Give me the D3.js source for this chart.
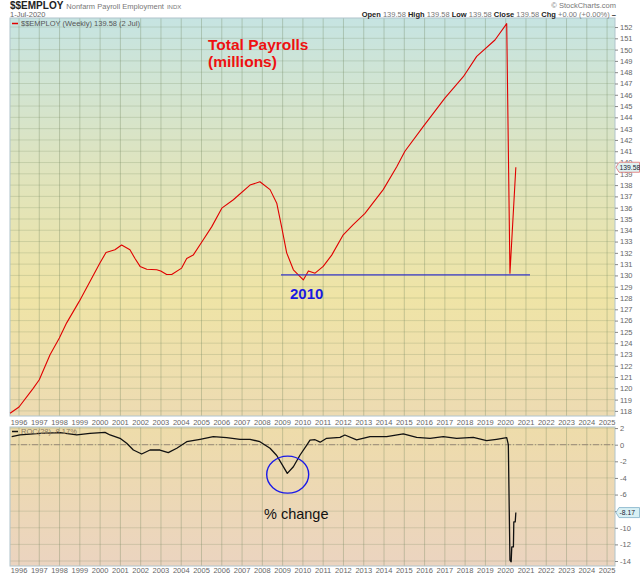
<!DOCTYPE html>
<html>
<head>
<meta charset="utf-8">
<script src="https://cdn.jsdelivr.net/npm/d3@7"></script>
<style>
  body { margin: 0; background: #fff; }
  text { font-family: "Liberation Sans", Arial, sans-serif; }
</style>
</head>
<body>
<svg id="chart" width="640" height="576"></svg>
<script>
// payrolls, weekly, millions (decimal years)
var payrollYears = [1995.56, 1996.0, 1996.7, 1997.0, 1997.53, 1997.99, 1998.35, 1998.97, 1999.5, 1999.99,
  2000.29, 2000.73, 2001.06, 2001.47, 2001.72, 2001.97, 2002.3, 2002.79, 2002.99, 2003.28, 2003.53,
  2004.02, 2004.27, 2004.59, 2004.99, 2005.5, 2006.0, 2006.57, 2007.39, 2007.88, 2008.38, 2008.71,
  2008.95, 2009.2, 2009.53, 2010.02, 2010.27, 2010.6, 2011.0, 2011.42, 2011.99, 2012.48, 2013.06,
  2013.96, 2014.62, 2015.03, 2015.94, 2017.0, 2017.91, 2018.57, 2019.47, 2020.05, 2020.21, 2020.5];
var payrollValues = [117.8, 118.35, 120.0, 120.76, 122.97, 124.45, 125.8, 127.7, 129.46, 131.1,
  132.03, 132.27, 132.7, 132.27, 131.5, 130.8, 130.55, 130.5, 130.4, 130.08, 130.08,
  130.65, 131.5, 131.8, 132.9, 134.3, 135.96, 136.7, 138.0, 138.3, 137.6, 136.4,
  134.3, 132.0, 130.5, 129.6, 130.4, 130.2, 130.8, 131.8, 133.6, 134.5, 135.5,
  137.6, 139.6, 141.0, 143.2, 145.7, 147.6, 149.4, 150.85, 152.3, 130.2, 139.58];

// ROC(28) in percent
var rocYears = [1995.64, 1996.05, 1997.04, 1998.02, 1998.85, 1999.5, 2000.24, 2000.49, 2000.98, 2001.31,
  2001.64, 2002.05, 2002.46, 2002.95, 2003.36, 2003.78, 2004.27, 2004.93, 2005.58, 2006.24, 2006.9,
  2007.39, 2007.88, 2008.38, 2008.71, 2009.23, 2009.53, 2009.86, 2010.19, 2010.35, 2010.6, 2010.85,
  2011.17, 2011.83, 2012.07, 2012.65, 2013.31, 2014.13, 2014.95, 2015.61, 2016.27, 2016.92, 2017.58,
  2018.4, 2019.06, 2019.55, 2020.05, 2020.13, 2020.21, 2020.27, 2020.3, 2020.38, 2020.4, 2020.47, 2020.5];
var rocValues = [0.96, 1.17, 1.37, 1.45, 1.17, 1.37, 1.49, 1.17, 0.77, 0.17,
  -0.64, -1.12, -0.64, -0.64, -0.96, -0.43, 0.36, 0.65, 0.96, 0.84, 0.65,
  0.65, 0.36, -0.43, -1.3, -3.45, -2.65, -1.24, -0.04, 0.55, 0.6, 0.3,
  0.77, 0.89, 1.17, 0.57, 0.96, 0.96, 1.29, 0.89, 0.77, 0.96, 0.77,
  0.89, 0.48, 0.65, 0.84, 0.0, -13.9, -14.1, -12.3, -12.3, -9.3, -9.3, -8.17];

var yearTicks = d3.range(1996, 2026);
var topTicks = d3.range(118, 153);
var rocTicks = [2, 0, -2, -4, -6, -8, -10, -12, -14];

// annotations
var supportLevel = 130.05, supportFrom = 2008.92, supportTo = 2021.2;
var troughYear = 2009.25, troughRoc = -3.6;

var svg = d3.select("#chart");
var left = 10, right = 615;
var top1 = 18, bot1 = 416, top2 = 427, bot2 = 566;

var x = d3.scaleLinear().domain([1995.556, 2025.39]).range([left, right]);
var y = d3.scaleLinear().domain([117.55, 152.8]).range([bot1, top1]);
var y2 = d3.scaleLinear().domain([-14.6, 2.13]).range([bot2, top2]);

var defs = svg.append("defs");
var g1 = defs.append("linearGradient").attr("id", "bg1").attr("x1", 0).attr("x2", 0).attr("y1", 0).attr("y2", 1);
g1.append("stop").attr("offset", "0%").attr("stop-color", "#c6e4e2");
g1.append("stop").attr("offset", "40%").attr("stop-color", "#e0e4bc");
g1.append("stop").attr("offset", "70%").attr("stop-color", "#efe4a6");
g1.append("stop").attr("offset", "100%").attr("stop-color", "#eddbb2");
var g2 = defs.append("linearGradient").attr("id", "bg2").attr("x1", 0).attr("x2", 0).attr("y1", 0).attr("y2", 1);
g2.append("stop").attr("offset", "0%").attr("stop-color", "#eedcaa");
g2.append("stop").attr("offset", "100%").attr("stop-color", "#ebd4c0");

svg.append("rect").attr("x", left).attr("y", top1).attr("width", right - left).attr("height", bot1 - top1)
  .attr("fill", "url(#bg1)");
svg.append("rect").attr("x", left).attr("y", top2).attr("width", right - left).attr("height", bot2 - top2)
  .attr("fill", "url(#bg2)");

// gridlines
function grid(yScale, ticks, t, b) {
  var g = svg.append("g");
  g.selectAll("line.h").data(ticks).enter().append("line")
    .attr("x1", left).attr("x2", right)
    .attr("y1", function(d) { return yScale(d); }).attr("y2", function(d) { return yScale(d); })
    .attr("stroke", "rgba(110,130,90,0.22)");
  g.selectAll("line.v").data(yearTicks).enter().append("line")
    .attr("x1", function(d) { return x(d); }).attr("x2", function(d) { return x(d); })
    .attr("y1", t).attr("y2", b)
    .attr("stroke", "rgba(110,130,90,0.33)");
}
grid(y, topTicks, top1, bot1);
grid(y2, rocTicks, top2, bot2);

// zero line
svg.append("line").attr("x1", left).attr("x2", right).attr("y1", y2(0)).attr("y2", y2(0))
  .attr("stroke", "#9a8c78").attr("stroke-dasharray", "6,2,1,2");

// borders
svg.append("rect").attr("x", left).attr("y", top1).attr("width", right - left).attr("height", bot1 - top1)
  .attr("fill", "none").attr("stroke", "#b0c4cc");
svg.append("rect").attr("x", left).attr("y", top2).attr("width", right - left).attr("height", bot2 - top2)
  .attr("fill", "none").attr("stroke", "#b0c4cc");

// right axes (the -8 label sits under the value marker, as in the original)
var axTop = svg.append("g").attr("transform", "translate(" + right + ",0)")
  .call(d3.axisRight(y).tickValues(topTicks).tickSize(3).tickPadding(2));
var axBot = svg.append("g").attr("transform", "translate(" + right + ",0)")
  .call(d3.axisRight(y2).tickValues(rocTicks).tickSize(3).tickPadding(2)
    .tickFormat(function(d) { return d === -8 ? "" : d; }));
[axTop, axBot].forEach(function(a) {
  a.select(".domain").remove();
  a.selectAll("line").attr("stroke", "#888");
  a.selectAll("text").attr("fill", "#666").attr("font-size", "7.5px")
    .attr("font-family", "'Liberation Sans', Arial, sans-serif");
});

// year labels
function yearAxis(yy) {
  svg.append("g").selectAll("text").data(yearTicks).enter().append("text")
    .attr("x", function(d) { return x(d); }).attr("y", yy)
    .attr("text-anchor", "middle").attr("font-size", "7.5px").attr("fill", "#666")
    .text(function(d) { return d; });
}
yearAxis(425);
yearAxis(573);

// series
var payroll = payrollYears.map(function(d, i) { return [d, payrollValues[i]]; });
var roc = rocYears.map(function(d, i) { return [d, rocValues[i]]; });

svg.append("path").datum(payroll)
  .attr("fill", "none").attr("stroke", "#e00000").attr("stroke-width", 1.1)
  .attr("stroke-linejoin", "round")
  .attr("d", d3.line().x(function(d) { return x(d[0]); }).y(function(d) { return y(d[1]); }));

svg.append("path").datum(roc)
  .attr("fill", "none").attr("stroke", "#111").attr("stroke-width", 1.3)
  .attr("stroke-linejoin", "round")
  .attr("d", d3.line().x(function(d) { return x(d[0]); }).y(function(d) { return y2(d[1]); }));

// annotations
svg.append("line")
  .attr("x1", x(supportFrom)).attr("x2", x(supportTo))
  .attr("y1", y(supportLevel)).attr("y2", y(supportLevel))
  .attr("stroke", "#3838c8").attr("stroke-width", 1.3);
svg.append("text").attr("x", 290).attr("y", 299).attr("fill", "#1a1ae0")
  .attr("font-size", "15px").attr("font-weight", "bold").text("2010");
svg.append("ellipse").attr("cx", x(troughYear)).attr("cy", y2(troughRoc))
  .attr("rx", 21).attr("ry", 18.5)
  .attr("fill", "none").attr("stroke", "#1a1ae8").attr("stroke-width", 1.4);
svg.append("text").attr("x", 264).attr("y", 519).attr("fill", "#111")
  .attr("font-size", "14.5px").text("% change");
svg.append("text").attr("x", 208).attr("y", 50).attr("fill", "#ee1111")
  .attr("font-size", "15.5px").attr("font-weight", "bold").text("Total Payrolls");
svg.append("text").attr("x", 208).attr("y", 67).attr("fill", "#ee1111")
  .attr("font-size", "15.5px").attr("font-weight", "bold").text("(millions)");

// value markers
function marker(yy, label, stroke, fill) {
  var g = svg.append("g");
  g.append("path")
    .attr("d", "M" + (right + 1) + "," + yy + " L" + (right + 4) + "," + (yy - 5) + " L639.5," + (yy - 5) +
      " L639.5," + (yy + 5) + " L" + (right + 4) + "," + (yy + 5) + " Z")
    .attr("fill", fill).attr("stroke", stroke).attr("stroke-width", 0.8);
  g.append("text").attr("x", right + 4.5).attr("y", yy + 2.5).attr("font-size", "6.8px")
    .attr("fill", "#223").text(label);
}
marker(y(payrollValues[payrollValues.length - 1]), "139.58", "#e07070", "#dff2f2");
marker(y2(rocValues[rocValues.length - 1]), "-8.17", "#80b0c8", "#d8f0f4");

// legends
svg.append("line").attr("x1", 12).attr("x2", 18).attr("y1", 23.5).attr("y2", 23.5)
  .attr("stroke", "#e00000").attr("stroke-width", 1.5);
svg.append("text").attr("x", 21).attr("y", 26).attr("font-size", "7.5px").attr("fill", "#555")
  .attr("font-family", "'DejaVu Sans Mono', monospace").text("$$EMPLOY (Weekly) 139.58 (2 Jul)");
svg.append("line").attr("x1", 12).attr("x2", 18).attr("y1", 431.5).attr("y2", 431.5)
  .attr("stroke", "#111").attr("stroke-width", 1.5);
svg.append("text").attr("x", 21).attr("y", 434).attr("font-size", "7.5px").attr("fill", "#8a7a60")
  .attr("font-family", "'DejaVu Sans Mono', monospace").text("ROC(28) -8.17%");

// header
var h = svg.append("text").attr("x", 10).attr("y", 9);
h.append("tspan").attr("font-size", "10px").attr("font-weight", "bold").attr("fill", "#222").text("$$EMPLOY");
h.append("tspan").attr("font-size", "7.5px").attr("fill", "#777").attr("dx", 3).text("Nonfarm Payroll Employment");
h.append("tspan").attr("font-size", "6px").attr("fill", "#777").attr("dx", 3).text("INDX");
svg.append("text").attr("x", 10).attr("y", 17).attr("font-size", "7.5px").attr("fill", "#666").text("1-Jul-2020");

svg.append("text").attr("x", 616).attr("y", 8).attr("text-anchor", "end")
  .attr("font-size", "7.5px").attr("fill", "#777").text("\u00a9 StockCharts.com");
var q = svg.append("text").attr("x", 616).attr("y", 17).attr("text-anchor", "end").attr("font-size", "7.5px");
[["Open", " 139.58 "], ["High", " 139.58 "], ["Low", " 139.58 "], ["Close", " 139.58 "], ["Chg", " +0.00 (+0.00%) "]]
  .forEach(function(p) {
    q.append("tspan").attr("font-weight", "bold").attr("fill", "#222").text(p[0]);
    q.append("tspan").attr("fill", "#777").text(p[1]);
  });
q.append("tspan").attr("font-weight", "bold").attr("fill", "#222").text("\u2013");
</script>
</body>
</html>
